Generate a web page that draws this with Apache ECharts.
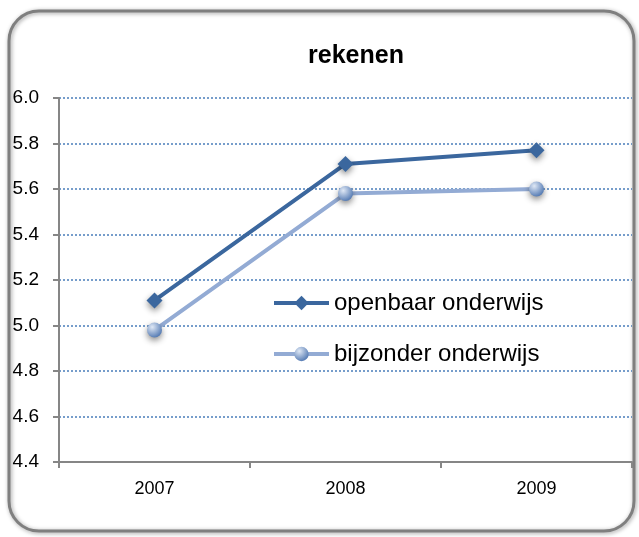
<!DOCTYPE html>
<html>
<head>
<meta charset="utf-8">
<script src="https://cdn.jsdelivr.net/npm/echarts@6/dist/echarts.min.js"></script>
<style>
html, body { margin: 0; padding: 0; background: #fff; }
#chart { width: 639px; height: 537px; }
</style>
</head>
<body>
<div id="chart"></div>
<script>
var years = ['2007', '2008', '2009'];
var openbaar = [5.11, 5.71, 5.77];
var bijzonder = [4.98, 5.58, 5.60];
var yTicks = { min: 4.4, max: 6.0, step: 0.2 };

var dom = document.getElementById('chart');
var myChart = echarts.init(dom);

var font = 'Liberation Sans, Arial, sans-serif';

myChart.setOption({
    animation: false,
    graphic: [{
        type: 'rect',
        shape: { x: 9, y: 11, width: 625, height: 520, r: 30 },
        style: { fill: 'none', stroke: '#7f7f7f', lineWidth: 3, shadowBlur: 4, shadowColor: 'rgba(0,0,0,0.4)', shadowOffsetX: 1, shadowOffsetY: 1 },
        z: -1
    }],
    title: {
        text: 'rekenen',
        left: 351,
        top: 39,
        textAlign: 'center',
        textStyle: { fontFamily: font, fontWeight: 'bold', fontSize: 25, color: '#000' }
    },
    grid: { left: 59, right: 7, top: 98, bottom: 75 },
    legend: {
        orient: 'vertical',
        left: 267,
        top: 286,
        itemWidth: 55,
        itemHeight: 18,
        itemGap: 27,
        lineStyle: { width: 4 },
        textStyle: { fontFamily: font, fontSize: 24, color: '#000' },
        data: ['openbaar onderwijs', 'bijzonder onderwijs']
    },
    xAxis: {
        type: 'category',
        data: years,
        boundaryGap: true,
        axisLine: { lineStyle: { color: '#868686', width: 2 } },
        axisTick: { show: true, length: 6, lineStyle: { color: '#868686', width: 2 } },
        axisLabel: { fontFamily: font, fontSize: 18, color: '#000', margin: 18 }
    },
    yAxis: {
        type: 'value',
        min: yTicks.min,
        max: yTicks.max,
        interval: yTicks.step,
        axisLine: { show: true, lineStyle: { color: '#868686', width: 2 } },
        axisTick: { show: true, length: 6, lineStyle: { color: '#868686', width: 2 } },
        axisLabel: {
            fontFamily: font, fontSize: 19, color: '#000', margin: 20,
            formatter: function (v) { return v.toFixed(1); }
        },
        splitLine: { show: true, lineStyle: { color: '#4a7ebb', type: [2, 2], width: 1.5 } }
    },
    series: [{
        name: 'openbaar onderwijs',
        type: 'line',
        data: openbaar,
        symbol: 'diamond',
        symbolSize: 16,
        lineStyle: { color: '#3b679e', width: 4 },
        itemStyle: { color: '#3b679e', shadowBlur: 6, shadowColor: 'rgba(0,0,0,0.45)', shadowOffsetY: 3 }
    }, {
        name: 'bijzonder onderwijs',
        type: 'line',
        data: bijzonder,
        symbol: 'circle',
        symbolSize: 15,
        lineStyle: { color: '#93abd4', width: 4 },
        itemStyle: {
            color: new echarts.graphic.RadialGradient(0.35, 0.3, 0.7, [
                { offset: 0, color: '#dfe8f5' },
                { offset: 1, color: '#5a7fb6' }
            ]),
            shadowBlur: 6, shadowColor: 'rgba(0,0,0,0.45)', shadowOffsetY: 3
        }
    }]
});
</script>
</body>
</html>
